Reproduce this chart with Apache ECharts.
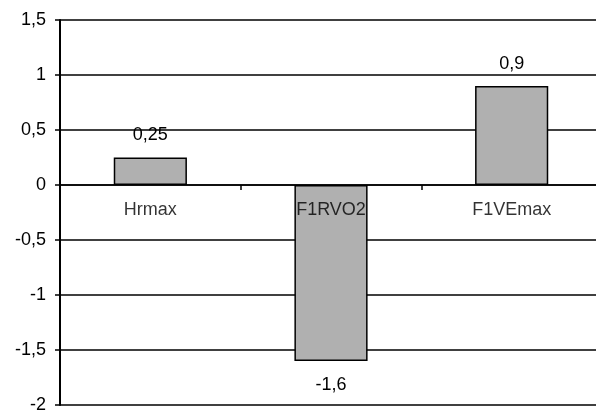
<!DOCTYPE html>
<html>
<head>
<meta charset="utf-8">
<script src="https://cdn.jsdelivr.net/npm/echarts@6/dist/echarts.min.js"></script>
<style>
html,body{margin:0;padding:0;background:#fff;}
#c{width:596px;height:413px;}
</style>
</head>
<body>
<div id="c"></div>
<script>
var categories = ['Hrmax', 'F1RVO2', 'F1VEmax'];
var values = [0.25, -1.6, 0.9];
var yMin = -2, yMax = 1.5, yStep = 0.5;

function fmt(v) { return String(v).replace('.', ','); }

var chart = echarts.init(document.getElementById('c'));
var font = 'Liberation Sans, Arial, sans-serif';
chart.setOption({
  animation: false,
  backgroundColor: '#fff',
  grid: { left: 60, top: 20, width: 542, height: 385, containLabel: false, outerBoundsMode: 'none' },
  xAxis: {
    type: 'category',
    data: categories,
    axisLine: { onZero: true, lineStyle: { color: '#000', width: 1.5 } },
    axisTick: { show: true, inside: false, length: 5, alignWithLabel: false, lineStyle: { color: '#000', width: 1.5 } },
    axisLabel: { show: false },
    splitLine: { show: false }
  },
  yAxis: {
    type: 'value',
    min: yMin, max: yMax, interval: yStep,
    axisLine: { show: true, lineStyle: { color: '#000', width: 2 } },
    axisTick: { show: true, length: 5, lineStyle: { color: '#000', width: 1.5 } },
    axisLabel: { color: '#000', fontFamily: font, fontSize: 18, margin: 14, formatter: function (v) { return fmt(v); } },
    splitLine: { show: true, lineStyle: { color: '#000', width: 1.5 } }
  },
  series: [{
    type: 'bar',
    barWidth: '40.5%',
    data: values.map(function (v) {
      return {
        value: v,
        label: { show: true, position: v >= 0 ? 'top' : 'bottom', distance: v >= 0 ? 13 : 15 }
      };
    }),
    itemStyle: { color: '#b0b0b0', borderColor: '#000', borderWidth: 1.5 },
    label: { color: '#000', fontFamily: font, fontSize: 18, formatter: function (p) { return fmt(p.value); } }
  }, {
    type: 'scatter',
    symbolSize: 0,
    silent: true,
    z: 5,
    data: categories.map(function (c) { return [c, 0]; }),
    label: {
      show: true, position: 'bottom', distance: 16,
      color: '#000', fontFamily: font, fontSize: 18,
      formatter: function (p) { return p.value[0]; }
    }
  }]
});
</script>
</body>
</html>
